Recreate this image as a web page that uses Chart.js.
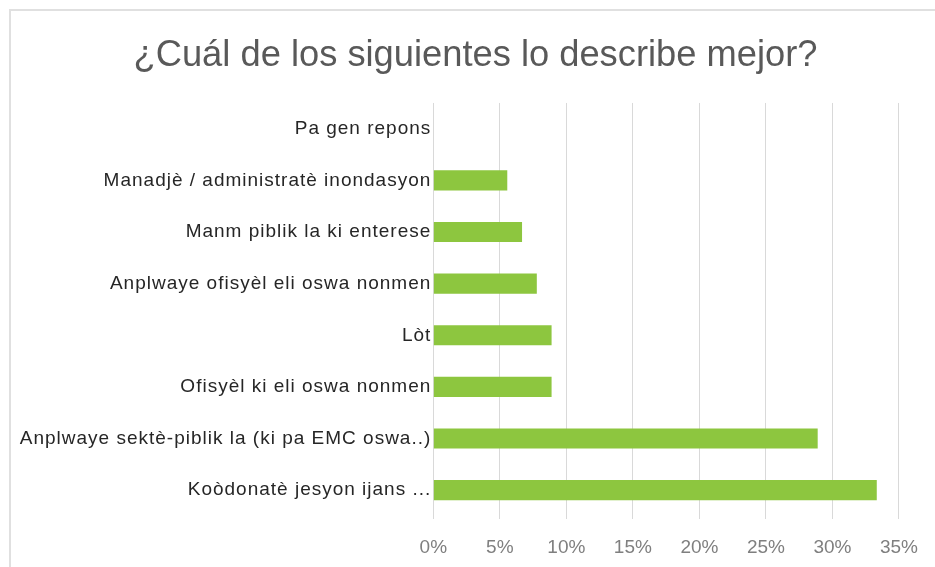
<!DOCTYPE html>
<html>
<head>
<meta charset="utf-8">
<script src="https://cdn.jsdelivr.net/npm/chart.js@4/dist/chart.umd.min.js"></script>
<style>
  html, body { margin: 0; padding: 0; background: #ffffff; overflow: hidden; }
  #wrap { position: relative; width: 935px; height: 567px; }
  #frame { position: absolute; left: 9px; top: 9px; width: 2000px; height: 2000px;
           border-left: 2px solid #e0e0e0; border-top: 2px solid #e0e0e0; box-sizing: border-box; }
  canvas { position: absolute; left: 0; top: 0; }
</style>
</head>
<body>
<div id="wrap">
  <div id="frame"></div>
  <canvas id="c" width="935" height="567"></canvas>
</div>
<script>
const chartTitle = "¿Cuál de los siguientes lo describe mejor?";
const categories = [
  "Pa gen repons",
  "Manadjè / administratè inondasyon",
  "Manm piblik la ki enterese",
  "Anplwaye ofisyèl eli oswa nonmen",
  "Lòt",
  "Ofisyèl ki eli oswa nonmen",
  "Anplwaye sektè-piblik la (ki pa EMC oswa..)",
  "Koòdonatè jesyon ijans ..."
];
const values = [0, 5.56, 6.67, 7.78, 8.89, 8.89, 28.89, 33.33];
const xMax = 35;
const xStep = 5;

// widen the category labels slightly, as in the reference rendering
const labelSpacing = {
  id: 'labelSpacing',
  afterLayout(chart) {
    // centre the title over the whole framed area as in the reference
    if (chart.titleBlock) { chart.titleBlock.left = 16; chart.titleBlock.right = chart.width; }
  },
  beforeDraw(chart) {
    const s = chart.scales.y;
    if (!s || s._spacedPatched) return;
    const orig = s.drawLabels;
    s.drawLabels = function (area) {
      const ctx = this.ctx;
      ctx.save();
      ctx.letterSpacing = '1px';
      orig.call(this, area);
      ctx.restore();
    };
    s._spacedPatched = true;
  }
};

new Chart(document.getElementById('c'), {
  type: 'bar',
  data: {
    labels: categories,
    datasets: [{
      data: values,
      backgroundColor: '#8dc63f',
      borderWidth: 0,
      barPercentage: 0.39,
      categoryPercentage: 1
    }]
  },
  plugins: [labelSpacing],
  options: {
    indexAxis: 'y',
    responsive: false,
    animation: false,
    devicePixelRatio: 1,
    layout: { padding: { left: 0, right: 34, top: 0, bottom: 0 } },
    plugins: {
      legend: { display: false },
      tooltip: { enabled: false },
      title: {
        display: true,
        text: chartTitle,
        color: '#595959',
        font: { family: 'Liberation Sans', size: 36.3, weight: 'normal', lineHeight: 1.2 },
        padding: { top: 34, bottom: 25.4 }
      }
    },
    scales: {
      x: {
        min: 0,
        max: xMax,
        grid: { color: '#d9d9d9', lineWidth: 1, drawTicks: true, tickLength: 3, tickColor: '#d9d9d9' },
        border: { display: false },
        ticks: {
          stepSize: xStep,
          padding: 17,
          color: '#7f7f7f',
          font: { family: 'Liberation Sans', size: 19 },
          callback: v => v + '%'
        },
        afterFit: s => { s.height = 51; }
      },
      y: {
        grid: { display: false, drawTicks: false },
        border: { display: false },
        ticks: {
          padding: 2,
          color: '#262626',
          font: { family: 'Liberation Sans', size: 19 }
        },
        afterFit: s => { s.width = 433.3; }
      }
    }
  }
});
</script>
</body>
</html>
